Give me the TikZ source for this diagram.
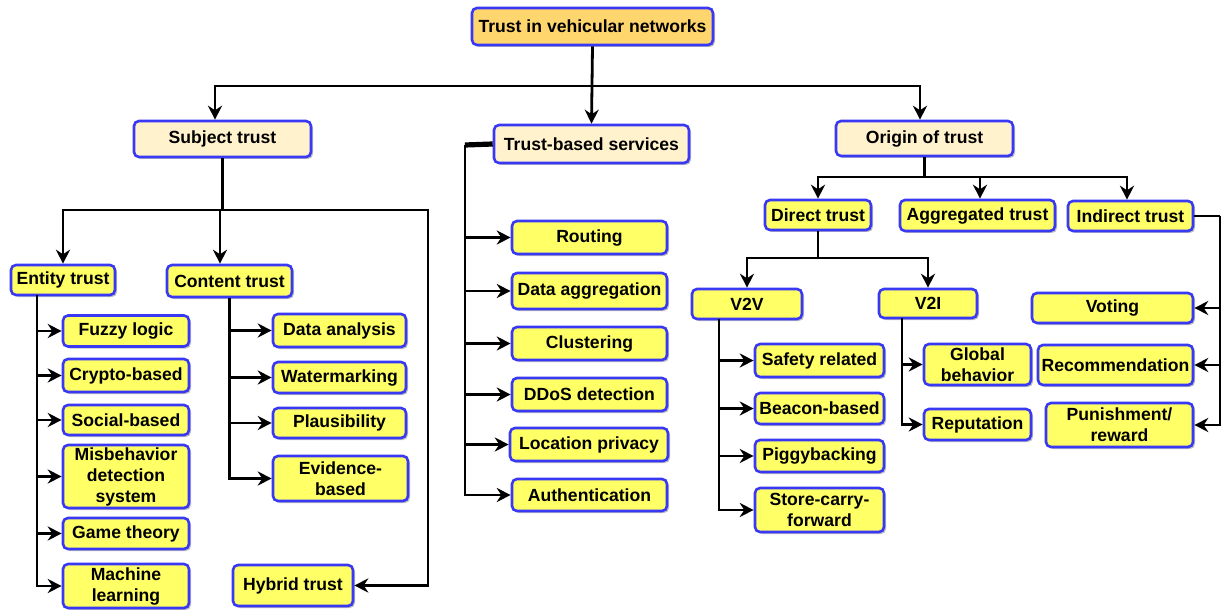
\documentclass[tikz,border=0pt]{standalone}
\usepackage{fontspec}
\setmainfont{Liberation Sans}
\usetikzlibrary{arrows.meta,shadows,calc}
\definecolor{bblue}{HTML}{3838F5}
\definecolor{byellow}{HTML}{FFFF66}
\definecolor{bcream}{HTML}{FFF2CC}
\definecolor{borange}{HTML}{FFD66E}
\tikzset{
  box/.style={draw=bblue, line width=1.3pt, rounded corners=2.5pt, fill=byellow,
    align=center, inner sep=0pt,
    font=\bfseries\fontsize{8.8}{10.5}\selectfont,
    drop shadow={shadow xshift=1pt, shadow yshift=-1pt, opacity=0.25, fill=black}},
  cream/.style={box, fill=bcream},
  wh/.style 2 args={minimum width=#1*0.5pt, minimum height=#2*0.5pt},
  conn/.style={line width=1.4pt, black},
  arr/.style={conn, -{Stealth[length=7pt, width=7pt, inset=2.3pt]}},
}
\begin{document}
\begin{tikzpicture}[x=0.5pt,y=-0.5pt]
\useasboundingbox[fill=white] (0,0) rectangle (1222,610);
% level 0/1
\node[box, fill=borange, wh={241}{37}] (top) at (592.5,26.5) {Trust in vehicular networks};
\node[cream, wh={177}{36}] (subj) at (222.5,139) {Subject trust};
\node[cream, wh={195}{38}] (tbs) at (591.5,144) {Trust-based services};
\node[cream, wh={177}{35}] (orig) at (924.5,138.5) {Origin of trust};
% subject trust branch
\node[box, wh={104}{30}] (entity) at (63,280) {Entity trust};
\node[box, wh={125}{32}] (content) at (229.5,281) {Content trust};
\node[box, wh={126}{31}] (fuzzy) at (126,331) {Fuzzy logic};
\node[box, wh={126}{33}] (crypto) at (126,375.5) {Crypto-based};
\node[box, wh={126}{30}] (social) at (126,420) {Social-based};
\node[box, wh={126}{63}] (misb) at (126,476.5) {Misbehavior\\detection\\system};
\node[box, wh={126}{31}] (game) at (126,533.5) {Game theory};
\node[box, wh={126}{44}] (ml) at (126,586) {Machine\\learning};
\node[box, wh={133}{33}] (data) at (339.5,330.5) {Data analysis};
\node[box, wh={133}{31}] (water) at (339.5,377.5) {Watermarking};
\node[box, wh={133}{30}] (plaus) at (339.5,423) {Plausibility};
\node[box, wh={135}{45}] (evid) at (340.5,478.5) {Evidence-\\based};
\node[box, wh={120}{41}] (hybrid) at (293,585.5) {Hybrid trust};
% services branch
\node[box, wh={155}{33}] (routing) at (589.5,237.5) {Routing};
\node[box, wh={155}{36}] (dagg) at (589.5,291) {Data aggregation};
\node[box, wh={155}{33}] (clust) at (589.5,343.5) {Clustering};
\node[box, wh={155}{33}] (ddos) at (589.5,394.5) {DDoS detection};
\node[box, wh={158}{33}] (loc) at (589,444.5) {Location privacy};
\node[box, wh={155}{32}] (auth) at (589.5,495) {Authentication};
% origin branch
\node[box, wh={106}{30}] (direct) at (818,215) {Direct trust};
\node[box, wh={155}{31}] (aggr) at (977.5,215.5) {Aggregated trust};
\node[box, wh={125}{30}] (indir) at (1130.5,216) {Indirect trust};
\node[box, wh={110}{30}] (v2v) at (747,304) {V2V};
\node[box, wh={98}{29}] (v2i) at (928,303.5) {V2I};
\node[box, wh={129}{33}] (safety) at (819.5,360.5) {Safety related};
\node[box, wh={129}{31}] (beacon) at (819.5,408.5) {Beacon-based};
\node[box, wh={129}{32}] (piggy) at (819.5,456) {Piggybacking};
\node[box, wh={129}{44}] (store) at (819.5,510) {Store-carry-\\forward};
\node[box, wh={107}{41}] (global) at (977.5,364.5) {Global\\behavior};
\node[box, wh={107}{31}] (rep) at (977.5,424.5) {Reputation};
\node[box, wh={161}{30}] (voting) at (1112.5,308) {Voting};
\node[box, wh={155}{40}] (recom) at (1115.5,365) {Recommendation};
\node[box, wh={147}{44}] (punish) at (1119.5,425) {Punishment/\\reward};
% junction coordinates
\coordinate (j0) at (592,86);
\coordinate (js) at (222.5,210);
\coordinate (jh) at (428,210);
\coordinate (je) at (37,295);
\coordinate (jt) at (465,145);
\coordinate (jo) at (924.5,177);
\coordinate (jd) at (818,258);
\coordinate (jv) at (719,319);
\coordinate (ji) at (902,318);
\coordinate (jr) at (1220,216);
% top connectors
\draw[arr] (top.south) -- (tbs.north);
\draw[arr] (j0) -| ([xshift=-3.75pt]subj.north);
\draw[arr] (j0) -| ([xshift=-2.25pt]orig.north);
% subject trust
\draw[conn] (subj.south) -- (js);
\draw[arr] (js) -| (entity.north);
\draw[arr] (js) -| ([xshift=-4.75pt]content.north);
\draw[arr] (js) -- (jh) |- (hybrid.east);
\foreach \n in {fuzzy,crypto,social,misb,game,ml} \draw[arr] (je) |- (\n.west);
\foreach \n in {data,water,plaus,evid} \draw[arr] (content.south) |- (\n.west);
% services
\draw[conn, line width=2.6pt] (tbs.west) -- (jt);
\foreach \n in {routing,dagg,clust,ddos,loc,auth} \draw[arr] (jt) |- (\n.west);
% origin
\draw[conn] (orig.south) -- (jo);
\draw[arr] (jo) -| (direct.north);
\draw[arr] (jo) -| ([xshift=1.25pt]aggr.north);
\draw[arr] (jo) -| ([xshift=-1.75pt]indir.north);
\draw[conn] (direct.south) -- (jd);
\draw[arr] (jd) -| (v2v.north);
\draw[arr] (jd) -| (v2i.north);
\foreach \n in {safety,beacon,piggy,store} \draw[arr] (jv) |- (\n.west);
\foreach \n in {global,rep} \draw[arr] (ji) |- (\n.west);
\draw[conn] (indir.east) -- (jr);
\foreach \n in {voting,recom,punish} \draw[arr] (jr) |- (\n.east);
\end{tikzpicture}
\end{document}
